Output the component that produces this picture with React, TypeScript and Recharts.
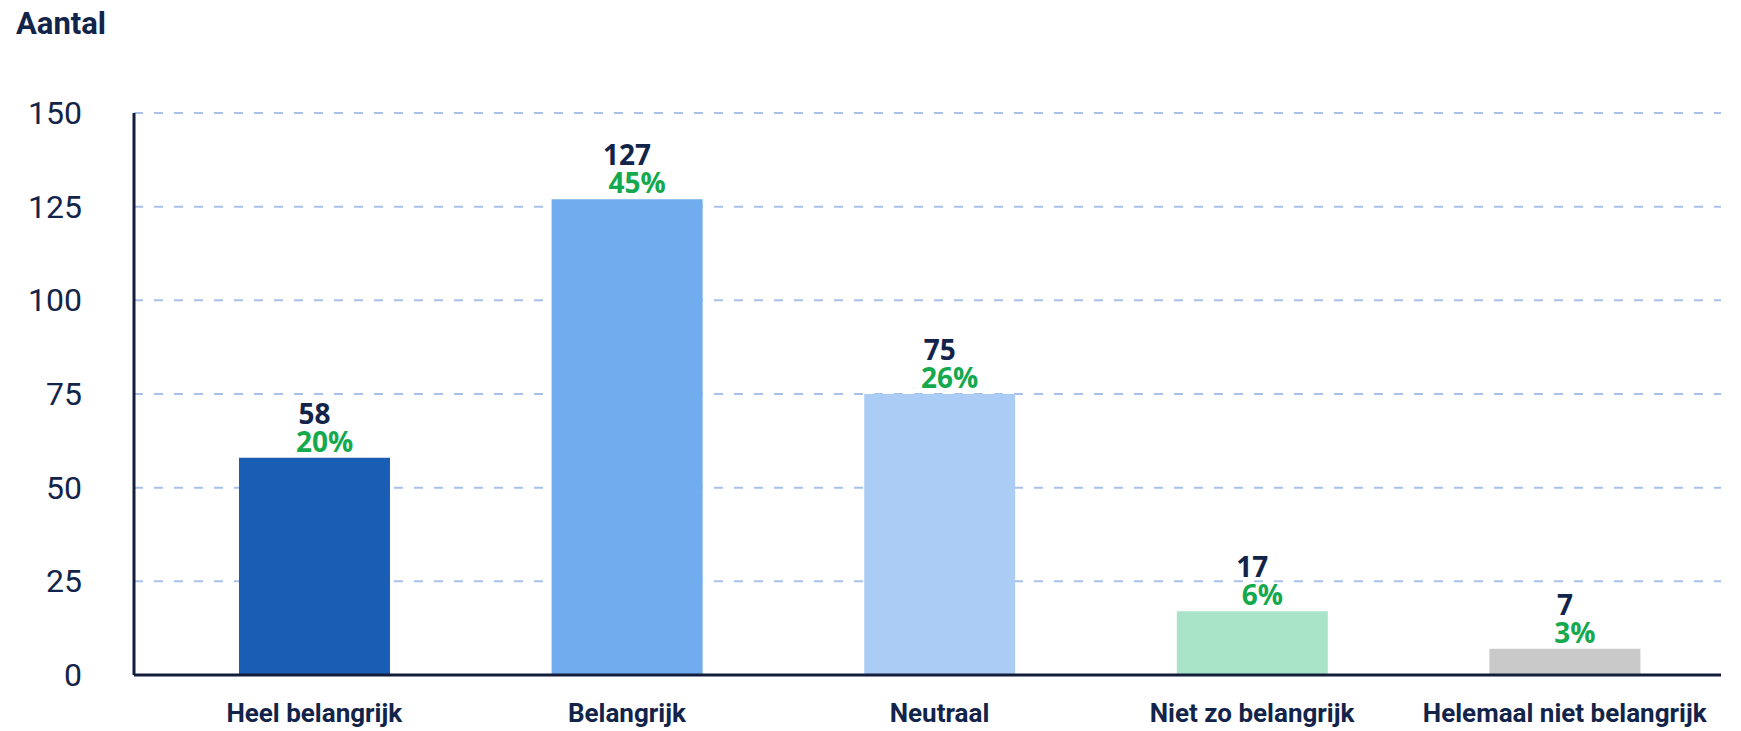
import { BarChart, Bar, XAxis, YAxis, CartesianGrid, Cell, LabelList } from "recharts";

const categories = ["Heel belangrijk", "Belangrijk", "Neutraal", "Niet zo belangrijk", "Helemaal niet belangrijk"];
const counts = [58, 127, 75, 17, 7];
const percents = ["20%", "45%", "26%", "6%", "3%"];
const barColors = ["#1a5db4", "#71acee", "#abcdf5", "#a9e4c9", "#c9c9c9"];
const yTicks = [0, 25, 50, 75, 100, 125, 150];

const data = categories.map((name, i) => ({ name, count: counts[i], pct: percents[i] }));

const NAVY = "#13244a";
const GREEN = "#15a94d";

const YTick = ({ x, y, payload }: any) => (
  <text x={x - 44} y={y} textAnchor="end" dominantBaseline="central" fill={NAVY} fontSize={32} fontFamily="Roboto, sans-serif">
    {payload.value}
  </text>
);

const XTick = ({ x, y, payload }: any) => (
  <text x={x} y={y + 30} textAnchor="middle" dominantBaseline="central" fill={NAVY} fontSize={26} fontWeight={700} fontFamily="Roboto, sans-serif">
    {payload.value}
  </text>
);

const BarLabel = ({ x, y, width, index }: any) => {
  const cx = x + width / 2;
  return (
    <g fontFamily="'Open Sans', sans-serif" fontWeight={700} fontSize={28}>
      <text x={cx} y={y - 45} textAnchor="middle" dominantBaseline="central" fill={NAVY}>
        {counts[index]}
      </text>
      <text x={cx + 10} y={y - 17} textAnchor="middle" dominantBaseline="central" fill={GREEN}>
        {percents[index]}
      </text>
    </g>
  );
};

export default function App() {
  return (
    <div style={{ position: "absolute", left: 0, top: 0, width: 1741, height: 731, background: "#fff" }}>
      <div
        style={{
          position: "absolute",
          left: 16,
          top: 4,
          fontFamily: "Roboto, sans-serif",
          fontWeight: 700,
          fontSize: 31,
          color: NAVY,
          lineHeight: "40px",
        }}
      >
        Aantal
      </div>
      <BarChart width={1741} height={731} data={data} margin={{ top: 113, right: 20, bottom: 26, left: 0 }}>
        <CartesianGrid horizontal vertical={false} stroke="#a9c1e8" strokeWidth={2} strokeDasharray="9 11" />
        <XAxis
          dataKey="name"
          interval={0}
          padding={{ left: 24, right: 0 }}
          axisLine={{ stroke: "#141e3c", strokeWidth: 3 }}
          tickLine={false}
          tick={<XTick />}
        />
        <YAxis
          width={134}
          domain={[0, 150]}
          ticks={yTicks}
          axisLine={{ stroke: "#141e3c", strokeWidth: 3 }}
          tickLine={false}
          tick={<YTick />}
        />
        <Bar dataKey="count" barSize={151} isAnimationActive={false}>
          {data.map((_, i) => (
            <Cell key={i} fill={barColors[i]} />
          ))}
          <LabelList dataKey="count" content={<BarLabel />} />
        </Bar>
      </BarChart>
    </div>
  );
}
